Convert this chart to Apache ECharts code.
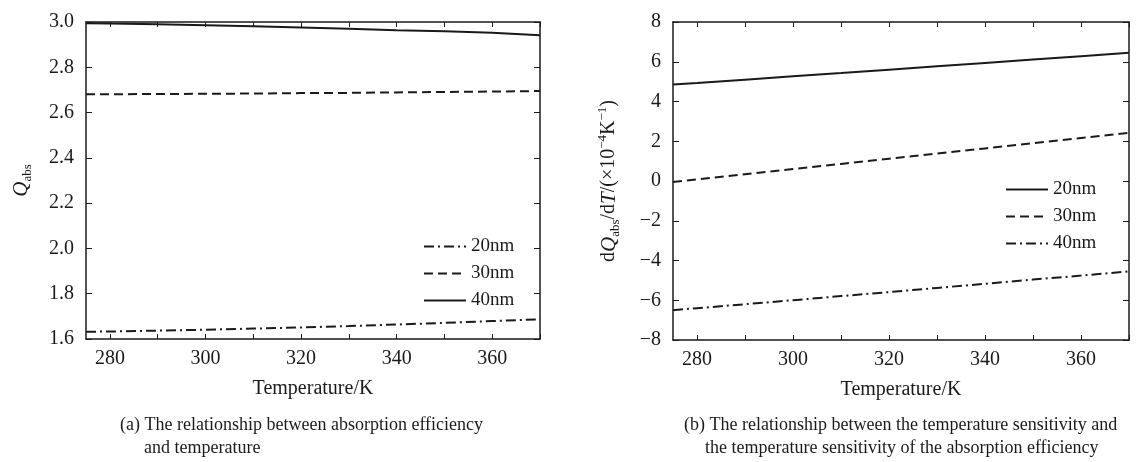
<!DOCTYPE html>
<html>
<head>
<meta charset="utf-8">
<script src="https://cdn.jsdelivr.net/npm/echarts@6/dist/echarts.min.js"></script>
<style>
  html, body { margin: 0; padding: 0; background: #fff; }
  #chart { width: 1136px; height: 462px; }
</style>
</head>
<body>
<div id="chart"></div>
<script>
// temperatures (K)
var temps = [275, 280, 290, 300, 310, 320, 330, 340, 350, 360, 370];
// (a) Q_abs
var qa20 = [1.632, 1.633, 1.637, 1.641, 1.646, 1.651, 1.657, 1.664, 1.671, 1.679, 1.687];
var qa30 = [2.681, 2.681, 2.682, 2.683, 2.684, 2.686, 2.687, 2.689, 2.691, 2.693, 2.695];
var qa40 = [2.995, 2.993, 2.990, 2.986, 2.981, 2.976, 2.970, 2.964, 2.959, 2.953, 2.941];
// (b) dQ_abs/dT (x10^-4 K^-1)
var qb20 = [4.85, 4.93, 5.10, 5.27, 5.43, 5.60, 5.77, 5.94, 6.11, 6.28, 6.45];
var qb30 = [-0.05, 0.08, 0.34, 0.60, 0.86, 1.12, 1.38, 1.64, 1.90, 2.16, 2.42];
var qb40 = [-6.50, -6.40, -6.20, -6.00, -5.79, -5.59, -5.38, -5.17, -4.96, -4.76, -4.55];
// tick values
var xTicks = [280, 290, 300, 310, 320, 330, 340, 350, 360, 370];
var xLabels = [280, 300, 320, 340, 360];
var sizeNames = ["20nm", "30nm", "40nm"];

var FONT = "Liberation Serif";
var INK = "#1a1a1a";

function pairs(xs, ys) {
  var out = [];
  for (var i = 0; i < xs.length; i++) out.push([xs[i], ys[i]]);
  return out;
}

var solid = "solid", dashed = [9, 5], dashdot = [10, 4, 2, 4];

function mkX(grid, pos, showLabel) {
  return {
    type: "value", gridIndex: grid, position: pos,
    min: 275, max: 370,
    axisLine: { show: true, onZero: false, lineStyle: { color: INK, width: 1.5 } },
    axisTick: { show: true, inside: true, length: 5, customValues: xTicks, lineStyle: { color: INK, width: 1 } },
    axisLabel: { show: showLabel, customValues: xLabels, margin: 10, color: INK, fontFamily: FONT, fontSize: 20 },
    splitLine: { show: false },
    name: showLabel ? "Temperature/K" : "",
    nameLocation: "middle", nameGap: 40,
    nameTextStyle: { color: INK, fontFamily: FONT, fontSize: 20 }
  };
}
function mkY(grid, pos, min, max, step, showLabel, digits, name, gap) {
  return {
    type: "value", gridIndex: grid, position: pos,
    min: min, max: max, interval: step,
    axisLine: { show: true, onZero: false, lineStyle: { color: INK, width: 1.5 } },
    axisTick: { show: true, inside: true, length: 6, lineStyle: { color: INK, width: 1 } },
    axisLabel: { show: showLabel, margin: 12, color: INK, fontFamily: FONT, fontSize: 20,
      formatter: function (v) { return v.toFixed(digits).replace("-", "\u2212"); } },
    splitLine: { show: false },
    name: name || "", nameLocation: "middle", nameGap: gap || 0
  };
}

var yNameRich = {
  n: { fontFamily: FONT, fontSize: 20, color: INK, lineHeight: 26 },
  i: { fontFamily: FONT, fontSize: 21, fontStyle: "italic", color: INK, lineHeight: 26 },
  sub: { fontFamily: FONT, fontSize: 13, color: INK, lineHeight: 10, verticalAlign: "bottom" },
  sup: { fontFamily: FONT, fontSize: 13, color: INK, lineHeight: 10, verticalAlign: "top" }
};

var yA = mkY(0, "left", 1.6, 3.0, 0.2, true, 1, "{i|Q}{sub|abs}", 52);
yA.nameTextStyle = { rich: yNameRich };
var yB = mkY(1, "left", -8, 8, 2, true, 0, "{n|d}{i|Q}{sub|abs}{n|/d}{i|T}{n|/(\u00d710}{sup|\u22124}{n|K}{sup|\u22121}{n|)}", 51);
yB.nameTextStyle = { rich: yNameRich };

function line(name, xi, yi, data, type) {
  return {
    name: name, type: "line", xAxisIndex: xi, yAxisIndex: yi,
    data: data, showSymbol: false, symbol: "none", smooth: false,
    color: INK,
    lineStyle: { color: INK, width: 2, type: type },
    emphasis: { disabled: true }
  };
}

var legendBase = {
  orient: "vertical", itemWidth: 42, itemHeight: 14, itemGap: 8,
  itemStyle: { opacity: 0 },
  textStyle: { color: INK, fontFamily: FONT, fontSize: 19 },
  formatter: function (n) { return n.slice(2); },
  selectedMode: false
};

var capFont = "18px 'Liberation Serif'";

var chart = echarts.init(document.getElementById("chart"));
chart.setOption({
  backgroundColor: "#fff",
  animation: false,
  grid: [
    { left: 86, top: 22, width: 454, height: 317 },
    { left: 673, top: 22, width: 456, height: 318 }
  ],
  xAxis: [mkX(0, "bottom", true), mkX(0, "top", false), mkX(1, "bottom", true), mkX(1, "top", false)],
  yAxis: [yA, mkY(0, "right", 1.6, 3.0, 0.2, false, 1), yB, mkY(1, "right", -8, 8, 2, false, 0)],
  legend: [
    Object.assign({ left: 418, top: 232, data: sizeNames.map(function (s) { return "a " + s; }) }, legendBase),
    Object.assign({ left: 1000, top: 175, data: sizeNames.map(function (s) { return "b " + s; }) }, legendBase)
  ],
  series: [
    line("a 20nm", 0, 0, pairs(temps, qa20), dashdot),
    line("a 30nm", 0, 0, pairs(temps, qa30), dashed),
    line("a 40nm", 0, 0, pairs(temps, qa40), solid),
    line("b 20nm", 2, 2, pairs(temps, qb20), solid),
    line("b 30nm", 2, 2, pairs(temps, qb30), dashed),
    line("b 40nm", 2, 2, pairs(temps, qb40), dashdot)
  ],
  graphic: [
    { type: "text", left: 120, top: 416, style: { text: "(a) The relationship between absorption efficiency", font: capFont, fill: INK } },
    { type: "text", left: 144, top: 439, style: { text: "and temperature", font: capFont, fill: INK } },
    { type: "text", left: 684, top: 416, style: { text: "(b) The relationship between the temperature sensitivity and", font: capFont, fill: INK } },
    { type: "text", left: 705, top: 439, style: { text: "the temperature sensitivity of the absorption efficiency", font: capFont, fill: INK } }
  ]
});
window.addEventListener("resize", function () { chart.resize(); });
</script>
</body>
</html>
